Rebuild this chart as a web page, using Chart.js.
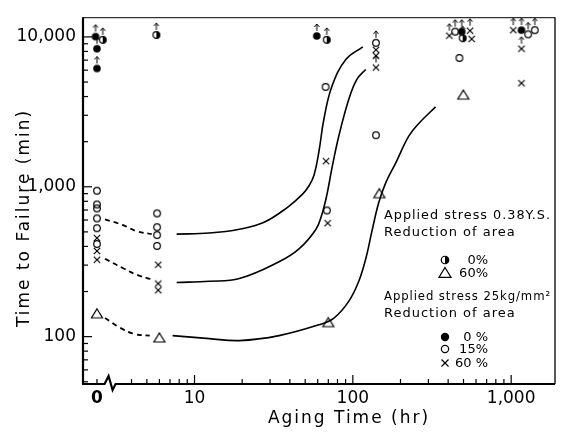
<!DOCTYPE html>
<html><head><meta charset="utf-8">
<script src="https://cdn.jsdelivr.net/npm/chart.js@4.4.1/dist/chart.umd.min.js"></script>
<style>html,body{margin:0;padding:0;background:#fff;}#wrap{width:561px;height:432px;}</style>
</head><body><div id="wrap"><canvas id="c" width="561" height="432"></canvas></div>
<script>
// ---------- axes ----------
const X_MIN = 1.975, X_MAX = 1892, Y_MIN = 48.3, Y_MAX = 13540;
const xTickValues = [2.42, 10, 100, 1000];
const xTickLabels = ['0', '10', '100', '1,000'];
const xMinorTicks = [4,5,6,7,8,9,20,30,40,50,60,70,80,90,200,300,400,500,600,700,800,900];
const yTickValues = [100, 1000, 10000];
const yTickLabels = ['100', '1,000', '10,000'];

// ---------- data: aging time (hr) / time to failure (min) ----------
// Applied stress 0.38 Y.S., reduction of area 0 % (half-filled circles, no failure)
const ys0RunHours = [2.63, 5.74, 68.4, 494];
const ys0RunMinutes = [9560, 10300, 9560, 9800];
// Applied stress 0.38 Y.S., reduction of area 60 % (triangles)
const ys60Hours = [2.42, 6.0, 70, 147, 499];
const ys60Minutes = [142, 98, 124, 899, 4090];
// Applied stress 25 kg/mm2, 0 % (filled circles, no failure)
const kg0RunHours = [2.37, 2.42, 2.42, 59.2, 487, 1162];
const kg0RunMinutes = [10050, 8340, 6160, 10150, 10840, 11100];
// 25 kg/mm2, 15 % (open circles)
const kg15Hours = [2.42, 2.42, 2.42, 2.42, 2.42, 2.42, 5.8, 5.8, 5.8, 5.8, 67.3, 68.6, 140, 471];
const kg15Minutes = [941, 762, 717, 615, 529, 415, 664, 537, 476, 403, 4640, 695, 2208, 7240];
const kg15RunHours = [140, 443, 1280, 1410];
const kg15RunMinutes = [9130, 10840, 10400, 11100];
// 25 kg/mm2, 60 % (crosses)
const kg60Hours = [2.42, 2.42, 2.42, 5.9, 5.9, 5.9, 67.7, 69.3, 140, 140, 563, 1162];
const kg60Minutes = [455, 373, 326, 302, 226, 204, 1483, 572, 8210, 7500, 9700, 4910];
const kg60RunHours = [140, 407, 550, 1031, 1162];
const kg60RunMinutes = [6250, 10200, 11000, 11100, 8340];

// ---------- hand-drawn trend curves ----------
const upperDashHours = [2.72, 3.54, 4.32, 5.37];
const upperDashMinutes = [607, 554, 505, 483];
const upperHours = [7.71, 12.4, 19.2, 27.5, 38.5, 47.8, 52.9, 56.9, 61.1, 65.7, 73.8, 90.3, 115.6];
const upperMinutes = [483, 491, 521, 580, 727, 886, 1016, 1199, 1726, 2844, 4690, 7060, 8590];
const middleDashHours = [2.72, 3.54, 4.32, 5.37];
const middleDashMinutes = [331, 286, 258.6, 241];
const middleHours = [7.71, 12.4, 19.2, 34.2, 45.7, 58.5, 63.8, 68.6, 73.8, 81.7, 94.4, 106, 120.7];
const middleMinutes = [230, 234, 244, 316, 385, 521, 655, 886, 1334, 2198, 3850, 5210, 6070];
const lowerDashHours = [2.72, 3.37, 4.2, 5.21];
const lowerDashMinutes = [133, 115, 104, 101.6];
const lowerHours = [7.27, 12.4, 19.2, 34.2, 61.1, 76, 94.4, 109, 120.7, 131.6, 145.8, 161.3, 186.4, 225, 260, 333];
const lowerMinutes = [101.6, 97, 94.1, 101.6, 120, 133, 172.6, 234, 331, 498, 785, 1062, 1438, 2167, 2635, 3410];

// ---------- legend text ----------
const legendGroup1 = ['Applied stress 0.38Y.S.', 'Reduction of area'];
const legendItems1 = [['half', '0%'], ['tri', '60%']];
const legendGroup2 = ['Applied stress 25kg/mm\u00B2', 'Reduction of area'];
const legendItems2 = [['filled', '0 %'], ['open', '15%'], ['cross', '60 %']];

const FONT = '"DejaVu Sans", sans-serif';
const pts = (h, m) => h.map((v, i) => ({x: v, y: m[i]}));

function drawSymbol(g, type, cx, cy, k) {
  k = k || 1;
  g.strokeStyle = '#000'; g.fillStyle = '#000'; g.lineWidth = 1.2;
  if (type === 'open') { g.beginPath(); g.arc(cx, cy, 3.3 * k, 0, 2 * Math.PI); g.stroke(); }
  else if (type === 'filled') { g.beginPath(); g.arc(cx, cy, 3.8 * k, 0, 2 * Math.PI); g.fill(); }
  else if (type === 'half') {
    g.beginPath(); g.arc(cx, cy, 3.4 * k, 0, 2 * Math.PI); g.stroke();
    g.beginPath(); g.arc(cx, cy, 3.4 * k, -Math.PI / 2, Math.PI / 2); g.closePath(); g.fill();
  }
  else if (type === 'cross') {
    const s = 3.2 * k; g.beginPath();
    g.moveTo(cx - s, cy - s); g.lineTo(cx + s, cy + s);
    g.moveTo(cx + s, cy - s); g.lineTo(cx - s, cy + s); g.stroke();
  }
  else if (type === 'tri') {
    g.beginPath(); g.moveTo(cx, cy - 5 * k); g.lineTo(cx + 5.5 * k, cy + 4 * k); g.lineTo(cx - 5.5 * k, cy + 4 * k);
    g.closePath(); g.stroke();
  }
}
function makeMarker(type, arrow) {
  const c = document.createElement('canvas'); c.width = 20; c.height = 30;
  const g = c.getContext('2d');
  drawSymbol(g, type, 10, 15);
  if (arrow) {
    const top = 3, base = 10;
    g.lineWidth = 1; g.beginPath();
    g.moveTo(10, base); g.lineTo(10, top);
    g.moveTo(7.5, top + 3); g.lineTo(10, top); g.lineTo(12.5, top + 3); g.stroke();
  }
  return c;
}

function pointSet(label, h, m, type, arrow) {
  return {label, data: pts(h, m), pointStyle: makeMarker(type, arrow), pointRadius: 5, showLine: false, clip: false};
}
function curve(label, h, m, dashed) {
  return {label, data: pts(h, m), showLine: true, pointRadius: 0, borderColor: '#000', borderWidth: dashed ? 1.8 : 1.6,
    borderDash: dashed ? [5, 4] : [], tension: 0.4, fill: false};
}

const decor = {
  id: 'decor',
  afterDraw(chart) {
    const {ctx, chartArea: a, scales: {x, y}} = chart;
    ctx.save();
    ctx.strokeStyle = '#000'; ctx.fillStyle = '#000';
    // frame
    ctx.lineWidth = 1;
    ctx.beginPath(); ctx.moveTo(a.left, a.top + 0.5); ctx.lineTo(a.right, a.top + 0.5); ctx.stroke();
    ctx.lineWidth = 1.3;
    ctx.beginPath(); ctx.moveTo(a.right, a.top); ctx.lineTo(a.right, a.bottom); ctx.stroke();
    ctx.lineWidth = 2.2;
    ctx.beginPath(); ctx.moveTo(a.left, a.top); ctx.lineTo(a.left, a.bottom); ctx.stroke();
    // bottom axis with break
    const b = a.bottom;
    const bx = x.getPixelForValue(2.95);
    ctx.beginPath(); ctx.moveTo(a.left - 1, b); ctx.lineTo(bx - 6, b);
    ctx.lineTo(bx - 2, b - 8); ctx.lineTo(bx + 2, b + 6); ctx.lineTo(bx + 5, b); ctx.lineTo(a.right, b);
    ctx.stroke();
    // x ticks (inward)
    ctx.lineWidth = 1.2;
    const tick = (px, len) => { ctx.beginPath(); ctx.moveTo(px, b); ctx.lineTo(px, b - len); ctx.stroke(); };
    xTickValues.forEach(v => tick(x.getPixelForValue(v), v === xTickValues[0] ? 5 : 9));
    xMinorTicks.forEach(v => tick(x.getPixelForValue(v), 5));
    // y ticks (inward)
    [10, 100, 1000, 10000].forEach(d => {
      for (let m = 1; m <= 9; m++) {
        const v = d * m;
        if (v < Y_MIN || v > Y_MAX) continue;
        const py = y.getPixelForValue(v);
        ctx.beginPath(); ctx.moveTo(a.left, py); ctx.lineTo(a.left + (m === 1 ? 9 : 5), py); ctx.stroke();
      }
    });
    // axis titles
    ctx.font = '17px ' + FONT;
    ctx.textAlign = 'center'; ctx.textBaseline = 'middle';
    if ('letterSpacing' in ctx) ctx.letterSpacing = '2px';
    ctx.fillText('Aging Time (hr)', 349, 419);
    ctx.save(); ctx.translate(25, 218); ctx.rotate(-Math.PI / 2);
    ctx.fillText('Time to Failure (min)', 0, 0); ctx.restore();
    // legend
    ctx.font = '13px ' + FONT;
    if ('letterSpacing' in ctx) ctx.letterSpacing = '1px';
    ctx.textAlign = 'left';
    const lx = 384, lw = 167;
    ctx.fillText(legendGroup1[0], lx, 216, lw);
    ctx.fillText(legendGroup1[1], lx, 233, lw);
    ctx.fillText(legendGroup2[0], lx, 297, lw);
    ctx.fillText(legendGroup2[1], lx, 314, lw);
    ctx.textAlign = 'right';
    if ('letterSpacing' in ctx) ctx.letterSpacing = '0px';
    const items = [[legendItems1[0], 260], [legendItems1[1], 273], [legendItems2[0], 337], [legendItems2[1], 349], [legendItems2[2], 363]];
    items.forEach(([it, yy]) => {
      drawSymbol(ctx, it[0], 445, yy, 1.1);
      ctx.fillText(it[1], 488, yy + 1);
    });
    ctx.restore();
  }
};

new Chart(document.getElementById('c'), {
  type: 'scatter',
  data: {
    datasets: [
      curve('upper dashed', upperDashHours, upperDashMinutes, true),
      curve('upper', upperHours, upperMinutes, false),
      curve('middle dashed', middleDashHours, middleDashMinutes, true),
      curve('middle', middleHours, middleMinutes, false),
      curve('lower dashed', lowerDashHours, lowerDashMinutes, true),
      curve('lower', lowerHours, lowerMinutes, false),
      pointSet('0.38Y.S. 0%', ys0RunHours, ys0RunMinutes, 'half', true),
      pointSet('0.38Y.S. 60%', ys60Hours, ys60Minutes, 'tri', false),
      pointSet('25kg/mm2 0%', kg0RunHours, kg0RunMinutes, 'filled', true),
      pointSet('25kg/mm2 15%', kg15Hours, kg15Minutes, 'open', false),
      pointSet('25kg/mm2 15% runout', kg15RunHours, kg15RunMinutes, 'open', true),
      pointSet('25kg/mm2 60%', kg60Hours, kg60Minutes, 'cross', false),
      pointSet('25kg/mm2 60% runout', kg60RunHours, kg60RunMinutes, 'cross', true)
    ]
  },
  options: {
    responsive: false, animation: false, devicePixelRatio: 1,
    layout: {padding: {left: 0, right: 4, top: 12, bottom: 0}},
    plugins: {legend: {display: false}, tooltip: {enabled: false}},
    scales: {
      x: {
        type: 'logarithmic', min: X_MIN, max: X_MAX, bounds: 'data',
        afterBuildTicks: s => { s.ticks = xTickValues.map(v => ({value: v})); },
        afterFit: s => { s.height = 48; },
        grid: {display: false, drawTicks: false}, border: {display: false},
        ticks: {
          autoSkip: false, maxRotation: 0, padding: 4, color: '#000',
          font: c => ({family: FONT, size: 17, weight: c.index === 0 ? 'bold' : 'normal'}),
          callback: (v, i) => xTickLabels[i]
        }
      },
      y: {
        type: 'logarithmic', min: Y_MIN, max: Y_MAX, bounds: 'data',
        afterBuildTicks: s => { s.ticks = yTickValues.map(v => ({value: v})); },
        afterFit: s => { s.width = 83; },
        grid: {display: false, drawTicks: false}, border: {display: false},
        ticks: {
          autoSkip: false, padding: 7, color: '#000',
          font: {family: FONT, size: 17},
          callback: (v, i) => yTickLabels[i]
        }
      }
    }
  },
  plugins: [decor]
});
</script></body></html>
